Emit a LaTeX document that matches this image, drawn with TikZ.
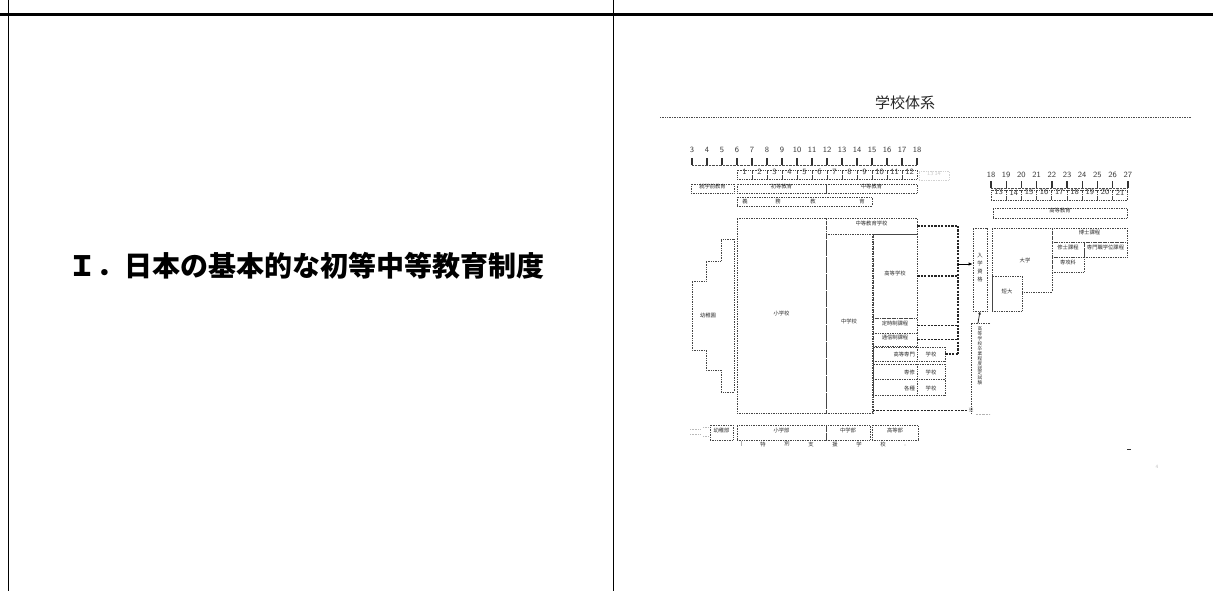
\documentclass[tikz,border=0pt]{standalone}
\usepackage{fontspec}
\newfontfamily\jp{Noto Sans CJK JP}
\usetikzlibrary{arrows.meta,fit}
\begin{document}
\begin{tikzpicture}[x=1pt,y=-1pt,
  box/.style={draw=gray!55!black, densely dotted, line width=0.7pt, inner sep=0pt},
  lbl/.style={font=\jp\fontsize{5.3}{5.8}\selectfont, text=gray!35!black, inner sep=0pt},
  vlbl/.style={font=\jp\fontsize{5.3}{8}\selectfont, text=gray!35!black, inner sep=0pt, align=center},
  num/.style={font=\sffamily\fontsize{8}{9}\selectfont, text=gray!45!black},
  tick/.style={line width=1.4pt, gray!40!black},
  conn/.style={dash pattern=on 2.2pt off 1.2pt, line width=1.4pt, black!85},
  frame/.style={line width=0.8pt, black}]
\useasboundingbox (0,0) rectangle (1213,591);

% frame
\draw[frame] (8,0) -- (8,591);
\draw[frame] (613,0) -- (613,591);
\draw[line width=3pt] (0,15) -- (1213,15);

% left title
\node[font=\jp\bfseries\fontsize{28}{30}\selectfont, inner sep=0pt] (maintitle) at (306,266) {Ｉ．日本の基本的な初等中等教育制度};

% right title
\node[font=\jp\fontsize{15}{16}\selectfont, text=black!85] (systitle) at (905,103) {学校体系};
\draw[densely dotted, gray!60!black, line width=0.7pt] (660,117) -- (1192,117);

% ages 3..18
\foreach \a [count=\i from 0] in {3,...,18} {
  \node[num] (age\a) at ({692+15*\i},150) {\a};
  \draw[tick] ({692+15*\i},158) -- ({692+15*\i},165);
}
\draw[densely dotted, gray!60!black] (692,165) -- (917,165);

% grades 1..12
\foreach \g in {1,...,12} {
  \node[box, num, fit={({737+15*(\g-1)},170) ({737+15*\g},179)}] (g\g) {\g};
}
\node[box, draw=gray!35, num, text=gray!40, font=\sffamily\fontsize{6}{7}\selectfont, fit={(919,171) (949,180)}] (g1314) {13\,14};

% ages 18..27
\foreach \a [count=\i from 0] in {18,...,27} {
  \node[num] (rage\a) at ({991+15.2*\i},175) {\a};
  \draw[tick] ({991+15.2*\i},181) -- ({991+15.2*\i},188);
}
\draw[densely dotted, gray!60!black] (991,188) -- (1128,188);
\foreach \g [count=\i from 0] in {13,...,21} {
  \node[box, num, fit={({991+15.2*\i},190) ({991+15.2*(\i+1)},200)}] (g\g) {\g};
}
\node[box, lbl, fit={(993,208) (1127,218)}] (koutoukyouiku) {高等教育};

% education stages
\node[box, lbl, fit={(691,184) (734,193)}] (shuugakumae) {就学前教育};
\node[box, lbl, fit={(737,184) (826,193)}] (shotou) {初等教育};
\node[box, lbl, fit={(826,184) (917,193)}] (chuutoukyouiku) {中等教育};
\node[box, fit={(737,197) (872,206)}] (gimu) {};
\foreach \c/\x [count=\k] in {義/745,務/778,教/813,育/862} {
  \node[lbl] (gimu\k) at (\x,201.5) {\c};
}

% kindergarten bracket
\draw[box] (734,239) -- (721,239) -- (721,261) -- (706,261) -- (706,281) -- (692,281)
  -- (692,350) -- (706,350) -- (706,370) -- (721,370) -- (721,392) -- (734,392) -- cycle;
\node[lbl] (youchien) at (708,315) {幼稚園};

% elementary / lower secondary
\node[box, lbl, fit={(737,218) (826,413)}] (shougakkou) {小学校};
\node[box, lbl, fit={(826,234) (872,413)}] (chuugakkou) {中学校};
\node[box, lbl, fit={(826,218) (917,234)}] (chuutougakkou) {中等教育学校};
\draw[box] (873,234) -- (873,413);

% upper secondary rows
\node[box, lbl, fit={(873,234) (917,318)}] (koukou) {高等学校};
\node[box, lbl, fit={(873,318) (917,333)}] (teiji) {定時制課程};
\node[box, lbl, fit={(873,333) (917,346)}] (tsuushin) {通信制課程};
\node[box, fit={(873,347) (945,361)}] (kousen) {};
\draw[box] (917,347) -- (917,361);
\node[lbl, anchor=east] (kousenA) at (915,354) {高等専門};
\node[lbl] (kousenB) at (931,354) {学校};
\node[box, fit={(873,364) (945,395)}] (senshu) {};
\draw[box] (917,364) -- (917,395) (873,379.5) -- (945,379.5);
\node[lbl, anchor=east] (senshuA) at (915,372) {専修};
\node[lbl] (senshuB) at (931,372) {学校};
\node[lbl, anchor=east] (kakushuA) at (915,388) {各種};
\node[lbl] (kakushuB) at (931,388) {学校};

% entrance qualification
\node[box, vlbl, fit={(973,228) (987,311)}] (nyuugaku) {入\\学\\資\\格};
\coordinate (vtop) at (958,226);
\coordinate (vbot) at (958,354);
\coordinate (vj) at (958,264);
\draw[conn] (chuutougakkou.east) -- (vtop);
\draw[conn] (koukou.east) -- (koukou.east -| vtop);
\draw[conn] (teiji.east) -- (teiji.east -| vtop);
\draw[conn] (tsuushin.east) -- (tsuushin.east -| vtop);
\draw[conn] (kousen.east) -- (vbot);
\draw[conn] (vtop) -- (vbot);
\draw[-{Latex[length=4pt,width=3.5pt]}, line width=1pt] (vj) -- (vj -| nyuugaku.west);

% equivalency exam
\node[vlbl, font=\jp\fontsize{4.6}{4.9}\selectfont] (nintei) at (980,356) {高\\等\\学\\校\\卒\\業\\程\\度\\認\\定\\試\\験};
\coordinate (ninteitop) at (978,323);
\draw[box] (990,323) -- (971,323) -- (971,413);
\draw[-{Latex[length=3pt,width=3pt]}, line width=0.8pt, gray!30!black] (ninteitop) -- (nyuugaku.south);

% bottom dashed line
\coordinate (bl) at (873,410);
\coordinate (br) at (967,410);
\draw[conn, line width=0.9pt] (bl) -- (br);
\node[lbl, font=\jp\fontsize{6}{6}\selectfont] (kome) at (971,410) {※};
\draw[densely dotted, gray!60] (976,414) -- (990,414);

% university block
\draw[box] (992,228) -- (1052,228) -- (1052,292) -- (1022,292) -- (1022,311) -- (992,311) -- cycle;
\node[lbl] (daigaku) at (1025,260) {大学};
\node[box, lbl, fit={(992,276) (1022,311)}] (tandai) {短大};
\node[box, lbl, fit={(1052,228) (1127,242)}] (hakase) {博士課程};
\node[box, lbl, fit={(1052,242) (1084,257)}] (shuushi) {修士課程};
\node[box, lbl, fit={(1084,242) (1127,257)}] (senmonshoku) {専門職学位課程};
\node[box, lbl, fit={(1052,257) (1084,272)}] (senkouka) {専攻科};

% special needs school
\draw[densely dotted, gray!55, line width=0.6pt] (690,429) -- (700,429) (690,434) -- (700,434) (703,427) -- (708,427) (703,436) -- (708,436);
\node[box, lbl, fit={(710,425) (733,440)}] (youchibu) {幼稚部};
\node[box, lbl, fit={(737,425) (826,440)}] (shougakubu) {小学部};
\node[box, lbl, fit={(826,425) (870,440)}] (chuugakubu) {中学部};
\node[box, lbl, fit={(872,425) (918,440)}] (koutoubu) {高等部};
\draw[gray!60, line width=0.5pt] (741,441) -- (741,446);
\foreach \c [count=\k from 0] in {特,別,支,援,学,校} {
  \node[lbl] (tokubetsu\k) at ({763+24*\k},444) {\c};
}
\fill[gray!60] (905,445) circle (0.6);

% page marks
\draw[black!80, line width=0.8pt] (1127,449.5) -- (1131,449.5);
\node[font=\sffamily\fontsize{5}{5}\selectfont, text=gray!50] (pageno) at (1157,467) {4};
\end{tikzpicture}
\end{document}
